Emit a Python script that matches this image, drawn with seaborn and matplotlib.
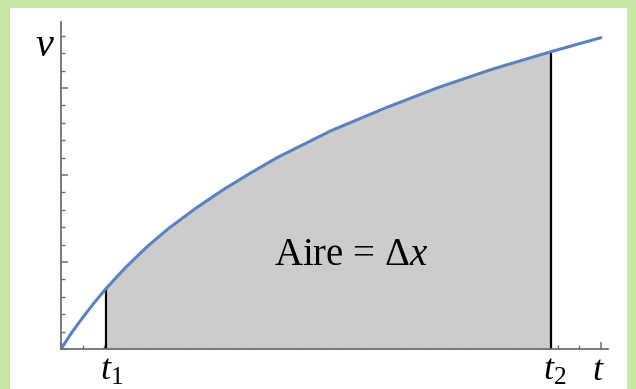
import matplotlib
matplotlib.use("Agg")
import matplotlib.pyplot as plt
from matplotlib.patches import Rectangle
from matplotlib.ticker import MultipleLocator
import numpy as np
import pandas as pd
import seaborn as sns

# velocity curve samples v(t)
t_vals = [0.0, 0.1, 0.2, 0.3, 0.42, 0.6, 0.8, 1.0, 1.25, 1.5, 1.75, 2.0,
          2.5, 3.0, 3.5, 4.0, 4.54, 5.0]
v_vals = [0.0, 0.19, 0.36, 0.52, 0.70, 0.94, 1.18, 1.39, 1.62, 1.83, 2.02,
          2.20, 2.51, 2.77, 3.01, 3.22, 3.42, 3.58]
t1, t2 = 0.42, 4.54
area_label = r"Aire = $\Delta x$"

sns.set_style("white")
plt.rcParams["mathtext.fontset"] = "custom"
plt.rcParams["mathtext.rm"] = "Liberation Serif"
plt.rcParams["mathtext.it"] = "Liberation Serif:italic"
plt.rcParams["font.family"] = ["Liberation Serif", "DejaVu Serif"]
plt.rcParams["text.color"] = "black"

df = pd.DataFrame({"t": t_vals, "v": v_vals})

fig = plt.figure(figsize=(6.36, 3.89), dpi=100)
fig.patch.set_facecolor("#c8e7a6")
# white panel inside the green frame
fig.patches.append(Rectangle((10 / 636, 0), 617 / 636, 381 / 389,
                             transform=fig.transFigure, facecolor="white",
                             edgecolor="none", zorder=-10))

ax = fig.add_axes([61 / 636, 40 / 389, 547 / 636, 327 / 389])
ax.set_facecolor("none")

# shaded area between t1 and t2
mask = (df["t"] >= t1) & (df["t"] <= t2)
ax.fill_between(df["t"][mask], 0, df["v"][mask], color="#cccccc", lw=0, zorder=1)

# vertical bounds at t1 and t2
v_t1 = df.loc[df["t"] == t1, "v"].iloc[0]
v_t2 = df.loc[df["t"] == t2, "v"].iloc[0]
ax.plot([t1, t1], [0, v_t1], color="black", lw=1.6, zorder=2)
ax.plot([t2, t2], [0, v_t2], color="black", lw=1.6, zorder=2)

sns.lineplot(data=df, x="t", y="v", ax=ax, color="#5b82bf", lw=2.2,
             zorder=3, estimator=None, sort=True)

ax.set_xlim(0, 5.065)
ax.set_ylim(0, 3.76)
ax.set_xlabel("")
ax.set_ylabel("")

for side in ["top", "right"]:
    ax.spines[side].set_visible(False)
for side in ["left", "bottom"]:
    ax.spines[side].set_color("#6e6e6e")
    ax.spines[side].set_linewidth(1.3)

ax.xaxis.set_major_locator(MultipleLocator(1))
ax.xaxis.set_minor_locator(MultipleLocator(0.2))
ax.yaxis.set_major_locator(MultipleLocator(1))
ax.yaxis.set_minor_locator(MultipleLocator(0.2))
ax.tick_params(which="major", direction="in", length=5, width=1.1,
               color="#6e6e6e", labelbottom=False, labelleft=False,
               bottom=True, left=True)
ax.tick_params(which="minor", direction="in", length=3, width=1.0,
               color="#6e6e6e", bottom=True, left=True)

# axis labels and markers
ax.text(45 / 636, 342 / 389, r"$v$", transform=fig.transFigure,
        fontsize=29, ha="center", va="center", color="black")
ax.text(t1 + 0.05, -0.07, r"$t_1$", fontsize=26, ha="center", va="top", color="black")
ax.text(t2 + 0.03, -0.07, r"$t_2$", fontsize=26, ha="center", va="top", color="black")
ax.text(4.98, -0.07, r"$t$", fontsize=26, ha="center", va="top", color="black")
ax.text(2.685, 1.08, area_label, fontsize=28, ha="center", va="center", color="black")

fig.savefig("out.png", dpi=100, facecolor=fig.get_facecolor())
